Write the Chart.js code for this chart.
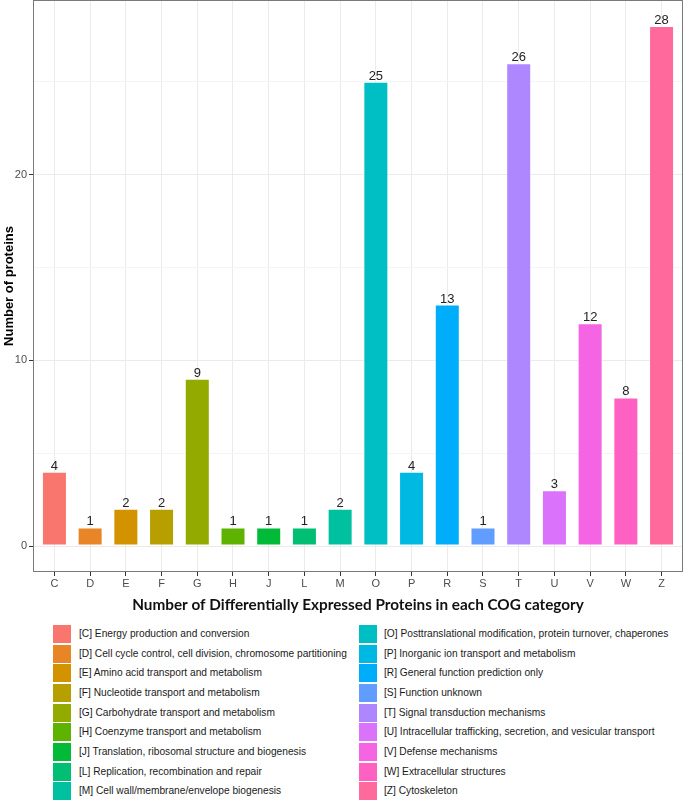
<!DOCTYPE html>
<html><head><meta charset="utf-8">
<script src="https://cdn.jsdelivr.net/npm/chart.js@4"></script>
<style>
html,body{margin:0;padding:0;background:#fff;}
#wrap{position:relative;width:685px;height:800px;overflow:hidden;}
#c{position:absolute;left:0;top:0;}
.key{position:absolute;width:18px;height:18px;}
.txt{position:absolute;white-space:nowrap;line-height:18px;height:18px;font-family:"Liberation Sans",Arial,sans-serif;font-size:10.2px;color:#1a1a1a;}
</style></head><body>
<div id="wrap"><canvas id="c" width="685" height="620"></canvas><div id="legend"></div></div>
<script>
// ---- data ----
const categories = ["C","D","E","F","G","H","J","L","M","O","P","R","S","T","U","V","W","Z"];
const counts = [4,1,2,2,9,1,1,1,2,25,4,13,1,26,3,12,8,28];
const descriptions = [
  "[C] Energy production and conversion",
  "[D] Cell cycle control, cell division, chromosome partitioning",
  "[E] Amino acid transport and metabolism",
  "[F] Nucleotide transport and metabolism",
  "[G] Carbohydrate transport and metabolism",
  "[H] Coenzyme transport and metabolism",
  "[J] Translation, ribosomal structure and biogenesis",
  "[L] Replication, recombination and repair",
  "[M] Cell wall/membrane/envelope biogenesis",
  "[O] Posttranslational modification, protein turnover, chaperones",
  "[P] Inorganic ion transport and metabolism",
  "[R] General function prediction only",
  "[S] Function unknown",
  "[T] Signal transduction mechanisms",
  "[U] Intracellular trafficking, secretion, and vesicular transport",
  "[V] Defense mechanisms",
  "[W] Extracellular structures",
  "[Z] Cytoskeleton"
];
const yTickValues = [0,5,10,15,20,25];
const yTickLabelled = [0,10,20];
const xTitle = "Number of Differentially Expressed Proteins in each COG category";
const yTitle = "Number of proteins";

// ---- styles ----
const barColors = ["#F8766D","#E88526","#D39200","#B79F00","#93AA00","#5EB300","#00BA38","#00BF74","#00C19F","#00BFC4","#00B9E3","#00ADFA","#619CFF","#AE87FF","#DB72FB","#F564E3","#FF61C3","#FF699C"];

const panelBorder = {
  id: 'panelBorder',
  afterDraw(chart) {
    const {ctx, chartArea: a} = chart;
    ctx.save();
    ctx.strokeStyle = '#7a7a7a';
    ctx.lineWidth = 1;
    ctx.strokeRect(Math.round(a.left) + 0.5, Math.round(a.top) + 0.5, Math.round(a.right - a.left) - 1, Math.round(a.bottom - a.top) - 1);
    ctx.restore();
  }
};
const barLabels = {
  id: 'barLabels',
  afterDatasetsDraw(chart) {
    const {ctx} = chart;
    const meta = chart.getDatasetMeta(0);
    ctx.save();
    ctx.font = '13px "Liberation Sans", Arial, sans-serif';
    ctx.fillStyle = '#222';
    ctx.textAlign = 'center';
    ctx.textBaseline = 'alphabetic';
    meta.data.forEach((bar, i) => {
      ctx.fillText(String(counts[i]), bar.x, bar.y - 2);
    });
    ctx.restore();
  }
};

new Chart(document.getElementById('c'), {
  type: 'bar',
  data: {
    datasets: [{
      data: counts.map((v, i) => ({x: i, y: v})),
      backgroundColor: barColors,
      borderColor: 'rgba(255,255,255,0.45)',
      borderWidth: 1,
      borderSkipped: false,
      categoryPercentage: 1,
      barPercentage: 0.7
    }]
  },
  options: {
    responsive: false,
    animation: false,
    devicePixelRatio: 1,
    layout: {padding: {top: 0, right: 2, bottom: 0, left: 0}},
    plugins: {legend: {display: false}, tooltip: {enabled: false}},
    scales: {
      x: {
        type: 'linear',
        offset: false,
        min: -0.6, max: 17.6,
        afterBuildTicks: s => { s.ticks = categories.map((_, i) => ({value: i})); },
        afterFit: s => { s.height = 48; s.paddingLeft = 0; s.paddingRight = 0; },
        ticks: {
          autoSkip: false, maxRotation: 0, padding: 1,
          color: '#4d4d4d',
          font: {family: '"Liberation Sans", Arial, sans-serif', size: 11},
          callback: v => categories[v]
        },
        grid: {offset: false, color: '#ebebeb', lineWidth: 1, tickLength: 4, tickColor: '#333'},
        border: {display: false},
        title: {
          display: true, text: xTitle, color: '#111',
          font: {family: 'Lato, "Open Sans", sans-serif', size: 15.3, weight: 'bold'},
          padding: {top: 4, bottom: 6}
        }
      },
      y: {
        type: 'linear',
        min: -1.4, max: 29.4,
        afterBuildTicks: s => { s.ticks = yTickValues.map(v => ({value: v})); },
        afterFit: s => { s.width = 33; s.paddingTop = 0; s.paddingBottom = 0; },
        ticks: {
          padding: 2,
          color: '#4d4d4d',
          font: {family: '"Liberation Sans", Arial, sans-serif', size: 11},
          callback: v => yTickLabelled.includes(v) ? String(v) : ''
        },
        grid: {
          color: c => (c.tick && yTickLabelled.includes(c.tick.value)) ? '#ebebeb' : '#f4f4f4',
          lineWidth: 1, tickLength: 4,
          tickColor: c => (c.tick && yTickLabelled.includes(c.tick.value)) ? '#333' : 'rgba(0,0,0,0)'
        },
        border: {display: false},
        title: {
          display: true, text: yTitle, color: '#000',
          font: {family: '"Liberation Sans", Arial, sans-serif', size: 13, weight: 'bold'},
          padding: {top: 2, bottom: 2}
        }
      }
    }
  },
  plugins: [panelBorder, barLabels]
});

// ---- legend (two columns, column-major) ----
const legend = document.getElementById('legend');
const perCol = Math.ceil(categories.length / 2);
categories.forEach((c, i) => {
  const col = Math.floor(i / perCol), row = i % perCol;
  const top = 625 + row * 19.65;
  const keyLeft = col === 0 ? 53 : 359;
  const txtLeft = col === 0 ? 79 : 384;
  const k = document.createElement('div');
  k.className = 'key';
  k.style.left = keyLeft + 'px'; k.style.top = top + 'px';
  k.style.background = barColors[i];
  legend.appendChild(k);
  const t = document.createElement('div');
  t.className = 'txt';
  t.style.left = txtLeft + 'px'; t.style.top = top + 'px';
  t.textContent = descriptions[i];
  legend.appendChild(t);
});
</script>
</body></html>
